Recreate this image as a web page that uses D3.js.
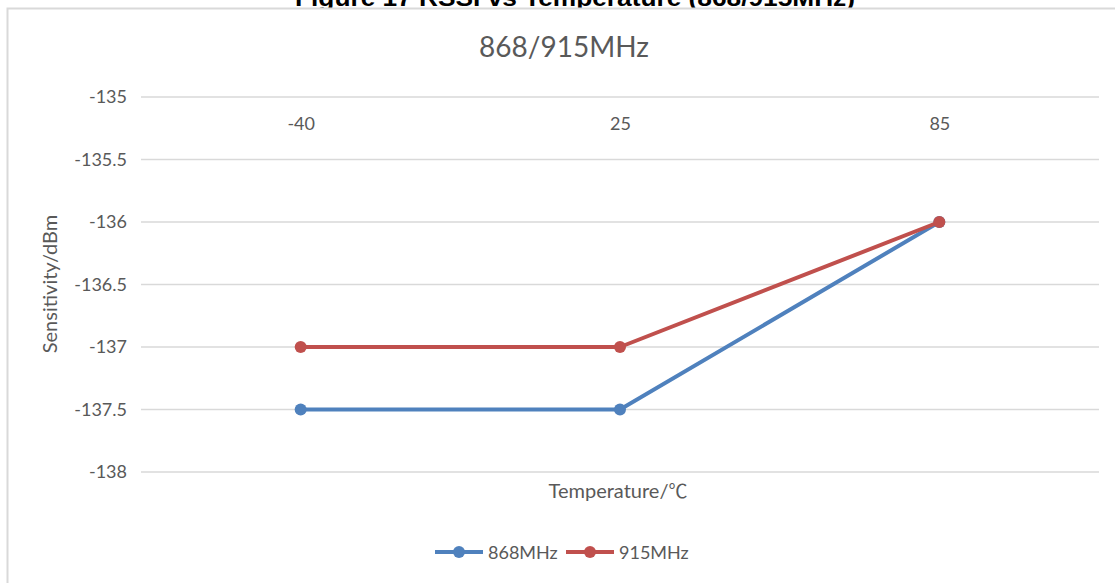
<!DOCTYPE html>
<html><head><meta charset="utf-8">
<script src="https://cdn.jsdelivr.net/npm/d3@7"></script>
<style>
html,body{margin:0;padding:0;background:#fff;}
svg{display:block;}
</style></head>
<body>
<svg id="chart" width="1115" height="583"></svg>
<script>
const categories = ["-40", "25", "85"];
const series868 = [-137.5, -137.5, -136];
const series915 = [-137, -137, -136];
const yTicks = [-135, -135.5, -136, -136.5, -137, -137.5, -138];
const seriesNames = ["868MHz", "915MHz"];
const seriesColors = ["#4F81BD", "#C0504D"];

const svg = d3.select("#chart");
const font = "Lato, 'Open Sans', sans-serif";
const grey = "#595959";

// caption (partly cut by the top edge, as in the reference)
svg.append("text").attr("x", 575).attr("y", 6).attr("text-anchor", "middle")
  .attr("font-family", "'Liberation Sans', Arial, sans-serif").attr("font-weight", "bold")
  .attr("font-size", 24).attr("fill", "#000")
  .attr("textLength", 560).attr("lengthAdjust", "spacingAndGlyphs")
  .text("Figure 17 RSSI vs Temperature (868/915MHz)");

// frame
svg.append("rect").attr("x", 7.5).attr("y", 8.5).attr("width", 1130).attr("height", 600)
  .attr("fill", "#fff").attr("stroke", "#d9d9d9").attr("stroke-width", 2);

const x = d3.scalePoint().domain(categories).range([141, 1099]).padding(0.5);
const y = d3.scaleLinear().domain([-138, -135]).range([472, 97]);

// gridlines
svg.append("g").selectAll("line").data(yTicks).join("line")
  .attr("x1", 141).attr("x2", 1099)
  .attr("y1", d => y(d)).attr("y2", d => y(d))
  .attr("stroke", "#d9d9d9").attr("stroke-width", 1.5);

// y axis labels
const yAxis = d3.axisLeft(y).tickValues(yTicks).tickSize(0).tickPadding(0).tickFormat(d => String(d));
const gy = svg.append("g").attr("transform", "translate(127,0)").call(yAxis);
gy.select(".domain").remove();
gy.selectAll("text").attr("font-family", font).attr("font-size", 18).attr("fill", grey);

// x axis labels at top (axis crosses at max)
const xAxis = d3.axisBottom(x).tickSize(0).tickPadding(0);
const gx = svg.append("g").attr("transform", `translate(0,${y(-135) + 20})`).call(xAxis);
gx.select(".domain").remove();
gx.selectAll("text").attr("font-family", font).attr("font-size", 18).attr("fill", grey);

// title
svg.append("text").attr("x", 564).attr("y", 57).attr("text-anchor", "middle")
  .attr("font-family", font).attr("font-size", 28).attr("fill", grey).text("868/915MHz");

// axis titles
const xt = svg.append("text").attr("x", 618).attr("y", 498).attr("text-anchor", "middle")
  .attr("font-family", font).attr("font-size", 20).attr("fill", grey);
xt.append("tspan").text("Temperature/");
xt.append("tspan").attr("font-family", "'Noto Sans CJK SC', sans-serif").attr("font-size", 19).text("℃");
svg.append("text").attr("transform", "translate(57,284) rotate(-90)").attr("text-anchor", "middle")
  .attr("font-family", font).attr("font-size", 20).attr("fill", grey).text("Sensitivity/dBm");

// series
const allSeries = [series868, series915];
const line = d3.line().x((d, i) => x(categories[i])).y(d => y(d));
allSeries.forEach((s, k) => {
  const g = svg.append("g");
  g.append("path").datum(s).attr("d", line).attr("fill", "none")
    .attr("stroke", seriesColors[k]).attr("stroke-width", 4).attr("stroke-linejoin", "round");
  g.selectAll("circle").data(s).join("circle")
    .attr("cx", (d, i) => x(categories[i])).attr("cy", d => y(d)).attr("r", 6)
    .attr("fill", seriesColors[k]);
});

// legend
const legendX = [435, 566];
seriesNames.forEach((n, k) => {
  const g = svg.append("g").attr("transform", `translate(${legendX[k]},552)`);
  g.append("line").attr("x1", 0).attr("x2", 48).attr("stroke", seriesColors[k]).attr("stroke-width", 4);
  g.append("circle").attr("cx", 24).attr("r", 6).attr("fill", seriesColors[k]);
  g.append("text").attr("x", 53).attr("y", 6.5).attr("font-family", font).attr("font-size", 18)
    .attr("fill", grey).text(n);
});
</script>
</body></html>
